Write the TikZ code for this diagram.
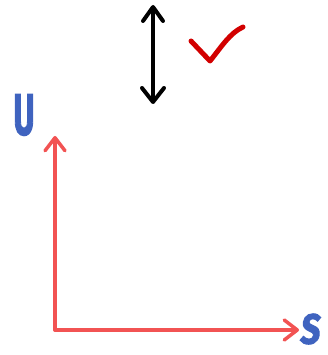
\documentclass[tikz,border=0pt]{standalone}
\usepackage{fontspec}
\setmainfont{Fira Sans}
\newfontfamily\handfont{Fira Sans}[BoldFeatures={FakeBold=2.5}]
\usetikzlibrary{arrows.meta}
\definecolor{axisred}{HTML}{F25353}
\definecolor{labblue}{HTML}{3F63BF}
\definecolor{checkred}{HTML}{D20000}
\tikzset{
  axis/.style={draw=axisred, line width=3.5pt, line cap=round, line join=round,
    arrows={-Straight Barb[length=13pt 0 0, width=20pt 0 0, round]}},
  dbl/.style={draw=black, line width=4pt, line cap=round, line join=round,
    arrows={Straight Barb[length=14pt 0 0, width=20pt 0 0, round]-Straight Barb[length=14pt 0 0, width=22pt 0 0, round]}},
  lab/.style={text=labblue, inner sep=0pt, transform shape},
}
\begin{document}
\begin{tikzpicture}[x=1pt,y=1pt]
\useasboundingbox (0,0) rectangle (327,355);
\coordinate (A1) at (153,350);
\coordinate (A2) at (153,251);
\draw[dbl] (A1) -- (A2);
\coordinate (C1) at (191,314);
\coordinate (C2) at (210,294);
\coordinate (C3) at (243,328);
\draw[checkred, line width=5pt, line cap=round, line join=round]
  (C1) -- (C2) .. controls (222,309) and (230,322) .. (C3);
\coordinate (O) at (55,25);
\coordinate (Y) at (55,219);
\coordinate (X) at (299,25);
\draw[axis] (O) -- (Y);
\draw[axis] (O) -- (X);
\node[lab, xscale=0.56, font=\fontsize{58}{58}\selectfont\handfont\bfseries] (U) at (24,240) {U};
\node[lab, xscale=0.82, xslant=0.15, font=\fontsize{42}{42}\selectfont\handfont\bfseries] (S) at (311,26) {S};
\end{tikzpicture}
\end{document}
